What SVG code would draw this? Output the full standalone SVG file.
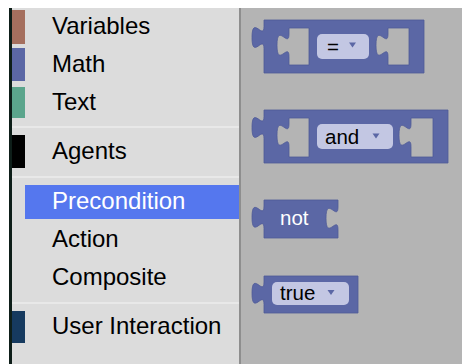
<svg xmlns="http://www.w3.org/2000/svg" width="462" height="364" viewBox="0 0 462 364">
<defs>
<style>
.lbl{font-family:"Liberation Sans",Arial,sans-serif;font-size:24px;fill:#000}
.sel{fill:#fff}
.fld{font-family:"Liberation Sans",Arial,sans-serif;font-size:20.5px;fill:#000}
.blk{fill:#5b67a5;stroke:#4f5b98;stroke-width:0.8}
.hole{fill:#b4b4b4;stroke:#4f5b98;stroke-width:0.8}
.dd{fill:#c3c7e3}
.arr{fill:#5b67a5}
.sep{fill:#e8e8e8}
</style>
</defs>
<rect x="0" y="0" width="462" height="364" fill="#ffffff"/>
<rect x="241" y="8" width="221" height="356" fill="#b4b4b4"/>
<g id="toolbox">
<rect x="9" y="8" width="3" height="356" fill="#0e1e19"/>
<rect x="12" y="8" width="227" height="356" fill="#dcdcdc"/>
<rect x="239" y="8" width="2" height="356" fill="#8e8e8e"/>
<rect class="sep" x="12" y="126" width="227" height="2"/>
<rect class="sep" x="12" y="176" width="227" height="2"/>
<rect class="sep" x="12" y="302" width="227" height="2"/>
</g>
<g id="cat-variables"><rect x="12" y="10" width="13" height="34" fill="#a56f5e"/><text class="lbl" x="52" y="34">Variables</text></g>
<g id="cat-math"><rect x="12" y="48" width="13" height="33" fill="#5b67a5"/><text class="lbl" x="52" y="72">Math</text></g>
<g id="cat-text"><rect x="12" y="87" width="13" height="31" fill="#5ba58c"/><text class="lbl" x="52" y="110">Text</text></g>
<g id="cat-agents"><rect x="12" y="135" width="13" height="33" fill="#000000"/><text class="lbl" x="52" y="159">Agents</text></g>
<g id="cat-precondition"><rect x="25" y="185" width="214" height="34" fill="#5577ee"/><text class="lbl sel" x="52" y="209">Precondition</text></g>
<g id="cat-action"><text class="lbl" x="52" y="247">Action</text></g>
<g id="cat-composite"><text class="lbl" x="52" y="285">Composite</text></g>
<g id="cat-user"><rect x="12" y="311" width="13" height="32" fill="#163a5f"/><text class="lbl" x="52" y="334">User Interaction</text></g>
<g id="connectors"></g>
<g id="block-equals">
<path class="blk" d="M264,20 H424 V73 H264 V48.75 c0,-15 -12,12 -12,-11.25 s12,3.75 12,-11.25 Z"/>
<path class="hole" d="M289,28 H309 V65 H289 V56.5 c0,-15 -12,12 -12,-11.25 s12,3.75 12,-11.25 Z"/>
<path class="hole" d="M388,28 H409 V65 H388 V56.5 c0,-15 -12,12 -12,-11.25 s12,3.75 12,-11.25 Z"/>
<rect class="dd" x="317" y="34" width="52" height="25" rx="5"/>
<text class="fld" x="327" y="54">=</text>
<polygon class="arr" points="349,42.5 356,42.5 352.5,47.5"/>
</g>
<g id="block-and">
<path class="blk" d="M264,110 H448 V163 H264 V138.75 c0,-15 -12,12 -12,-11.25 s12,3.75 12,-11.25 Z"/>
<path class="hole" d="M289,118 H309 V157 H289 V146.5 c0,-15 -12,12 -12,-11.25 s12,3.75 12,-11.25 Z"/>
<path class="hole" d="M411,118 H433 V157 H411 V146.5 c0,-15 -12,12 -12,-11.25 s12,3.75 12,-11.25 Z"/>
<rect class="dd" x="317" y="124" width="76" height="25" rx="5"/>
<text class="fld" x="325" y="144">and</text>
<polygon class="arr" points="372.5,133.5 379.5,133.5 376,138.5"/>
</g>
<g id="block-not">
<path class="blk" d="M264,200 H338 V207 c0,15 -12,-12 -12,11.25 s12,-3.75 12,11.25 V238 H264 V228.5 c0,-15 -12,12 -12,-11.25 s12,3.75 12,-11.25 Z"/>
<text class="fld" x="280" y="225" fill="#fff" style="fill:#fff">not</text>
</g>
<g id="block-true">
<path class="blk" d="M264,276 H358 V313 H264 V304.5 c0,-15 -12,12 -12,-11.25 s12,3.75 12,-11.25 Z"/>
<rect class="dd" x="272" y="282" width="77" height="23" rx="5"/>
<text class="fld" x="280" y="300">true</text>
<polygon class="arr" points="327.5,290 334.5,290 331,295"/>
</g>
</svg>
